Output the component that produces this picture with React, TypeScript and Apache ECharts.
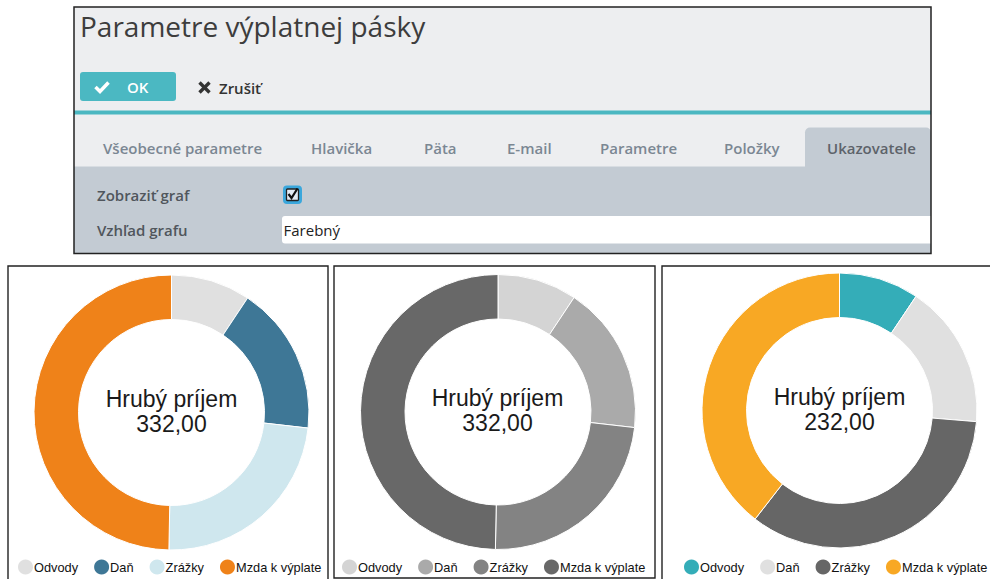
import React, { useEffect, useRef } from 'react';
import * as echarts from 'echarts';

// ---- data ----
const categories = ['Odvody', 'Daň', 'Zrážky', 'Mzda k výplate'];
const valuesColored = [31, 58, 78, 165];
const valuesGray = [31, 58, 78, 165];
const valuesTheme = [21.8, 39.2, 79.4, 91.6];
const colorsColored = ['#e0e0e0', '#3e7796', '#cfe7ee', '#ef8219'];
const colorsGray = ['#d4d4d4', '#aaaaaa', '#838383', '#686868'];
const colorsTheme = ['#34adb8', '#e0e0e0', '#666666', '#f8a824'];
const centerTitle = 'Hrubý príjem';
const pageTitle = 'Parametre výplatnej pásky';
const okLabel = 'OK';
const cancelLabel = 'Zrušiť';
const tabLabels = ['Všeobecné parametre', 'Hlavička', 'Päta', 'E-mail', 'Parametre', 'Položky', 'Ukazovatele'];
const formLabels = ['Zobraziť graf', 'Vzhľad grafu'];
const chartStyleValue = 'Farebný';

// ---- layout ----
const tabX = [103, 311, 424, 507, 600, 724, 827];
const UI = "'Open Sans', 'Noto Sans', sans-serif";
const ARIAL = "'Liberation Sans', Arial, sans-serif";

const fmt = (arr: number[]) => arr.reduce((a, b) => a + b, 0).toFixed(2).replace('.', ',');

function pieSeries(id: string, values: number[], colors: string[], center: number[]) {
  return {
    type: 'pie',
    id,
    radius: [93, 137.5],
    center,
    startAngle: 90,
    clockwise: true,
    silent: true,
    label: { show: false },
    labelLine: { show: false },
    emphasis: { disabled: true },
    itemStyle: { borderColor: '#ffffff', borderWidth: 1 },
    data: categories.map((n, i) => ({ name: n, value: values[i], itemStyle: { color: colors[i] } })),
  };
}

function legendFor(colors: string[], left: number) {
  return {
    left,
    top: 557.5,
    padding: 0,
    icon: 'circle',
    itemWidth: 17,
    itemHeight: 17,
    itemGap: 14,
    selectedMode: false,
    textStyle: { fontFamily: ARIAL, fontSize: 12.8, color: '#111111', padding: [0, 0, 0, -5] },
    data: categories.map((n, i) => ({ name: n, itemStyle: { color: colors[i] } })),
  };
}

function centerText(x: number, y: number, values: number[]) {
  return {
    type: 'text',
    x,
    y,
    style: {
      text: centerTitle + '\n' + fmt(values),
      fontFamily: ARIAL,
      fontSize: 23,
      lineHeight: 25,
      fill: '#1a1a1a',
      align: 'center',
      verticalAlign: 'middle',
    },
  };
}

export default function App() {
  const ref = useRef<HTMLDivElement>(null);
  useEffect(() => {
    if (!ref.current) return;
    const chart = echarts.init(ref.current, null, { renderer: 'svg' });
    const graphics: any[] = [
      // top panel
      { type: 'rect', shape: { x: 74, y: 7, width: 857, height: 160 }, style: { fill: '#edeef0' } },
      { type: 'rect', shape: { x: 74, y: 110.5, width: 857, height: 4 }, style: { fill: '#4bb7c1' } },
      { type: 'rect', shape: { x: 74, y: 166.5, width: 857, height: 87 }, style: { fill: '#c3cbd3' } },
      { type: 'rect', shape: { x: 805, y: 127.5, width: 126, height: 42, r: [5, 5, 0, 0] }, style: { fill: '#c3cbd3' } },
      { type: 'rect', shape: { x: 282, y: 216, width: 649, height: 27.5, r: [3, 0, 0, 3] }, style: { fill: '#ffffff' } },
      { type: 'text', x: 80, y: 26, style: { text: pageTitle, fontFamily: UI, fontSize: 28, fill: '#3d3d3d', align: 'left', verticalAlign: 'middle' } },
      // OK button
      { type: 'rect', shape: { x: 80, y: 72, width: 96, height: 29, r: 3 }, style: { fill: '#4bb8c2' } },
      { type: 'polyline', shape: { points: [[95.5, 87], [100, 91.5], [108.5, 82.5]] }, style: { stroke: '#ffffff', lineWidth: 3.5, fill: null } },
      { type: 'text', x: 127, y: 87, style: { text: okLabel, fontFamily: UI, fontSize: 15, fontWeight: 600, fill: '#ffffff', align: 'left', verticalAlign: 'middle' } },
      // cancel
      { type: 'line', shape: { x1: 199.5, y1: 82.5, x2: 209.5, y2: 92.5 }, style: { stroke: '#333333', lineWidth: 3.4 } },
      { type: 'line', shape: { x1: 209.5, y1: 82.5, x2: 199.5, y2: 92.5 }, style: { stroke: '#333333', lineWidth: 3.4 } },
      { type: 'text', x: 219, y: 87.5, style: { text: cancelLabel, fontFamily: UI, fontSize: 15, fontWeight: 600, fill: '#333333', align: 'left', verticalAlign: 'middle' } },
      // tabs
      ...tabLabels.map((t, i) => ({
        type: 'text', x: tabX[i], y: 148,
        style: { text: t, fontFamily: UI, fontSize: 15, fontWeight: 600, fill: i === tabLabels.length - 1 ? '#5d636a' : '#7b8793', align: 'left', verticalAlign: 'middle' },
      })),
      // form
      { type: 'text', x: 97, y: 195, style: { text: formLabels[0], fontFamily: UI, fontSize: 15, fontWeight: 600, fill: '#50565c', align: 'left', verticalAlign: 'middle' } },
      { type: 'text', x: 97, y: 230, style: { text: formLabels[1], fontFamily: UI, fontSize: 15, fontWeight: 600, fill: '#50565c', align: 'left', verticalAlign: 'middle' } },
      { type: 'text', x: 283.5, y: 230, style: { text: chartStyleValue, fontFamily: UI, fontSize: 15, fill: '#222222', align: 'left', verticalAlign: 'middle' } },
      // checkbox
      { type: 'rect', shape: { x: 283, y: 185.5, width: 19, height: 18.5, r: 4 }, style: { fill: '#3aa7dc' } },
      { type: 'rect', shape: { x: 286.5, y: 189, width: 12, height: 11.5, r: 1 }, style: { fill: '#e3ecf5', stroke: '#222222', lineWidth: 1.3 } },
      { type: 'polyline', shape: { points: [[288.5, 194], [291.5, 198], [297.5, 188.5]] }, style: { stroke: '#111111', lineWidth: 2.2, fill: null } },
      { type: 'rect', shape: { x: 74, y: 7, width: 857, height: 246.5 }, style: { fill: null, stroke: '#222222', lineWidth: 1.5 } },
      // chart panels
      { type: 'rect', shape: { x: 8, y: 266, width: 320, height: 330 }, style: { fill: null, stroke: '#222222', lineWidth: 1.4 } },
      { type: 'rect', shape: { x: 334, y: 266, width: 321, height: 312 }, style: { fill: null, stroke: '#222222', lineWidth: 1.4 } },
      { type: 'rect', shape: { x: 662, y: 266, width: 340, height: 330 }, style: { fill: null, stroke: '#222222', lineWidth: 1.4 } },
      centerText(171.5, 411, valuesColored),
      centerText(497.5, 410.5, valuesGray),
      centerText(839.5, 409, valuesTheme),
    ];
    chart.setOption({
      animation: false,
      backgroundColor: '#ffffff',
      legend: [legendFor(colorsColored, 16), legendFor(colorsGray, 340), legendFor(colorsTheme, 682)],
      series: [
        pieSeries('colored', valuesColored, colorsColored, [171.5, 412.5]),
        pieSeries('gray', valuesGray, colorsGray, [498, 412]),
        pieSeries('theme', valuesTheme, colorsTheme, [839.5, 410.5]),
      ],
      graphic: { elements: graphics },
    });
    return () => chart.dispose();
  }, []);
  return <div ref={ref} style={{ position: 'absolute', left: 0, top: 0, width: 990, height: 579 }} />;
}
